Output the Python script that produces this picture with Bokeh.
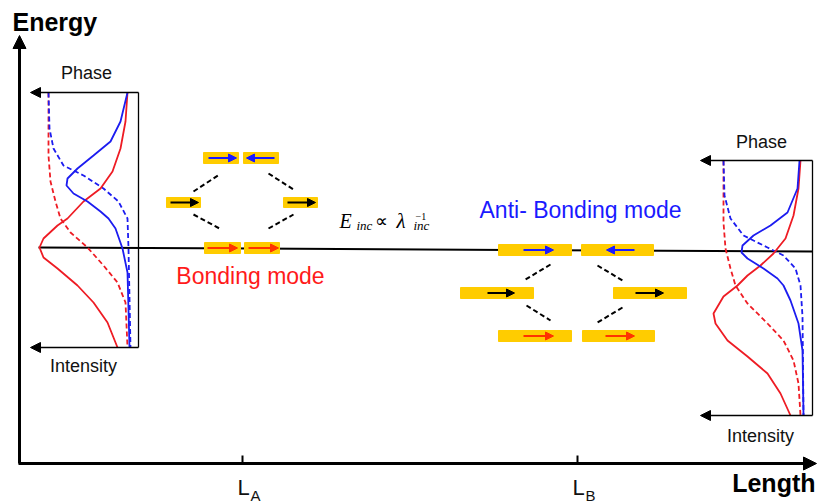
from bokeh.plotting import figure
from bokeh.models import Range1d, Arrow, NormalHead
from bokeh.core.properties import value
from bokeh.embed import file_html
from bokeh.resources import INLINE

# ---------------- data (reference pixel coordinates) ----------------
# left panel (mode at L_A)
left_red_solid_x = [127, 125, 120, 112, 100, 83, 67, 57, 43, 39, 43, 57, 77, 93, 107, 117]
left_red_solid_y = [92, 121, 148, 171, 188, 201, 218, 225, 238, 247, 257, 268, 285, 302, 322, 347]
left_blue_solid_x = [127, 120, 110, 93, 77, 67, 66, 73, 87, 100, 108, 115, 122, 127, 129]
left_blue_solid_y = [92, 121, 141, 155, 168, 178, 185, 193, 201, 211, 218, 228, 248, 272, 347]
left_blue_dash_x = [48, 49, 53, 63, 83, 103, 118, 127, 128, 130]
left_blue_dash_y = [92, 128, 148, 165, 175, 188, 201, 218, 248, 347]
left_red_dash_x = [48, 48, 50, 55, 60, 70, 87, 103, 117, 125, 127]
left_red_dash_y = [92, 155, 181, 201, 218, 232, 247, 265, 282, 302, 347]

# right panel (mode at L_B)
right_red_solid_x = [800, 798, 793, 785, 773, 760, 747, 737, 723, 713, 715, 727, 747, 767, 780, 790]
right_red_solid_y = [160, 188, 215, 238, 253, 265, 275, 285, 296, 313, 323, 340, 356, 373, 393, 415]
right_blue_solid_x = [799, 797, 787, 770, 753, 742, 741, 747, 763, 777, 783, 790, 798, 802, 803]
right_blue_solid_y = [160, 188, 212, 225, 235, 245, 252, 258, 268, 278, 285, 300, 323, 350, 415]
right_blue_dash_x = [723, 724, 730, 743, 767, 783, 795, 800, 802, 803]
right_blue_dash_y = [160, 195, 218, 235, 247, 255, 268, 285, 316, 415]
right_red_dash_x = [723, 723, 725, 730, 735, 747, 767, 783, 793, 798, 800]
right_red_dash_y = [160, 222, 248, 268, 285, 303, 323, 340, 360, 383, 415]

# panel frames: [x_right, x_arrow_tip, y_top, y_bottom]
panels = [[138, 30, 92, 347], [812, 700, 160, 415]]

# incident-energy line
energy_line_x = [38, 812]
energy_line_y = [247, 251]

# yellow dipole bars: left, right, top, bottom
bar_left = [203, 243, 166, 283, 204, 244, 498, 581, 460, 613, 498, 582]
bar_right = [238, 278, 200, 317, 240, 279, 571, 653, 533, 686, 571, 654]
bar_top = [152, 152, 197, 197, 242, 242, 244, 244, 287, 287, 330, 330]
bar_bottom = [163, 163, 207, 207, 253, 253, 255, 255, 298, 298, 341, 341]

# dipole arrows: x start, x end, y, colour name
dip_x0 = [208, 274, 170, 287, 207, 248, 523, 634, 487, 635, 523, 605]
dip_x1 = [236, 246, 198, 315, 237, 278, 553, 606, 514, 663, 553, 634]
dip_y = [157.5, 157.5, 202, 202, 247.5, 247.5, 249.5, 249.5, 292.5, 292.5, 335.5, 335.5]
dip_c = ["blue", "blue", "black", "black", "red", "red",
         "blue", "blue", "black", "black", "red", "red"]

# dashed hybridisation connectors
conn_x0 = [193, 268, 193, 268, 550, 597, 526, 622]
conn_y0 = [191, 173, 214, 228, 264, 265, 305, 307]
conn_x1 = [219, 293, 219, 293, 525, 622, 550, 597]
conn_y1 = [174, 189, 228, 214, 279, 280, 320, 322]

# length axis ticks
tick_x = [242, 577]
tick_names = ["L", "L"]
tick_subs = ["A", "B"]

RED = "#ee1c24"
BLUE = "#1c1cf0"
ARROW_COL = {"blue": "#1a1aff", "red": "#ff3300", "black": "#000000"}

p = figure(width=818, height=504, x_range=Range1d(0, 818), y_range=Range1d(504, 0),
           output_backend="svg", toolbar_location=None, min_border=0,
           x_axis_location=None, y_axis_location=None)
p.grid.visible = False
p.outline_line_color = None
p.background_fill_color = "white"
p.border_fill_color = "white"

# main axes
p.add_layout(Arrow(end=NormalHead(size=13, fill_color="black", line_color="black"),
                   x_start=19, y_start=463, x_end=19, y_end=35, line_width=3))
p.add_layout(Arrow(end=NormalHead(size=13, fill_color="black", line_color="black"),
                   x_start=18, y_start=463, x_end=816, y_end=463, line_width=3))
p.segment(x0=tick_x, y0=[455] * 2, x1=tick_x, y1=[463] * 2, line_color="black", line_width=2)

# energy line
p.line(energy_line_x, energy_line_y, line_color="black", line_width=2)

# panel frames
for xr, xt, yt, yb in panels:
    p.line([xr, xr], [yt, yb], line_color="black", line_width=1.3)
    for yy in (yt, yb):
        p.add_layout(Arrow(end=NormalHead(size=10, fill_color="black", line_color="black"),
                           x_start=xr, y_start=yy, x_end=xt, y_end=yy, line_width=1.3))

# curves
p.line(left_red_dash_x, left_red_dash_y, line_color=RED, line_width=1.8, line_dash="5 3")
p.line(left_blue_dash_x, left_blue_dash_y, line_color=BLUE, line_width=1.8, line_dash="5 3")
p.line(left_red_solid_x, left_red_solid_y, line_color=RED, line_width=1.8)
p.line(left_blue_solid_x, left_blue_solid_y, line_color=BLUE, line_width=1.8)
p.line(right_red_dash_x, right_red_dash_y, line_color=RED, line_width=1.8, line_dash="5 3")
p.line(right_blue_dash_x, right_blue_dash_y, line_color=BLUE, line_width=1.8, line_dash="5 3")
p.line(right_red_solid_x, right_red_solid_y, line_color=RED, line_width=1.8)
p.line(right_blue_solid_x, right_blue_solid_y, line_color=BLUE, line_width=1.8)

# connectors
p.segment(x0=conn_x0, y0=conn_y0, x1=conn_x1, y1=conn_y1, line_color="black",
          line_width=2, line_dash="5 3")

# bars
p.quad(left=bar_left, right=bar_right, top=bar_top, bottom=bar_bottom,
       fill_color="#ffcc00", line_color="#ffcc00")

# dipole arrows
for x0, x1, yy, c in zip(dip_x0, dip_x1, dip_y, dip_c):
    col = ARROW_COL[c]
    p.add_layout(Arrow(end=NormalHead(size=8, fill_color=col, line_color=col),
                       x_start=x0, y_start=yy, x_end=x1, y_end=yy,
                       line_color=col, line_width=2.2))

SANS = value("Liberation Sans")
SERIF = value("Liberation Serif")

def txt(x, y, s, size, color="#111111", align="left", style="normal", font=SANS):
    # y is the visual baseline; compensate for the renderer's baseline offset
    yy = y - 0.32 * size
    p.text(x=[x], y=[yy], text=[s], text_font=font, text_font_size=f"{size}px",
           text_color=color, text_align=align, text_baseline="alphabetic",
           text_font_style=style)

txt(12, 29, "Energy", 25, "#000000", style="bold")
txt(815, 490, "Length", 25, "#000000", align="right", style="bold")
txt(86, 78, "Phase", 18, align="center")
txt(83, 371, "Intensity", 18, align="center")
txt(761, 147, "Phase", 18, align="center")
txt(760, 441, "Intensity", 18, align="center")
txt(250, 283, "Bonding mode", 23, "#ff1a1a", align="center")
txt(580, 217, "Anti- Bonding mode", 23, "#1a1aff", align="center")

for x, n, s in zip(tick_x, tick_names, tick_subs):
    txt(x - 5, 494, n, 22)
    txt(x + 8, 500, s, 15)

# E_inc ∝ λ_inc^-1
txt(339, 227, "E", 20, "#000000", style="italic", font=SERIF)
txt(356, 229, "inc", 13, "#000000", style="italic", font=SERIF)
txt(374, 226, "\u221d", 18, "#000000", font=SERIF)
txt(396, 227, "\u03bb", 21, "#000000", style="italic", font=SERIF)
txt(415, 219, "\u22121", 10, "#000000", font=SERIF)
txt(413, 229, "inc", 13, "#000000", style="italic", font=SERIF)

open("out.html", "w").write(file_html(p, INLINE))
